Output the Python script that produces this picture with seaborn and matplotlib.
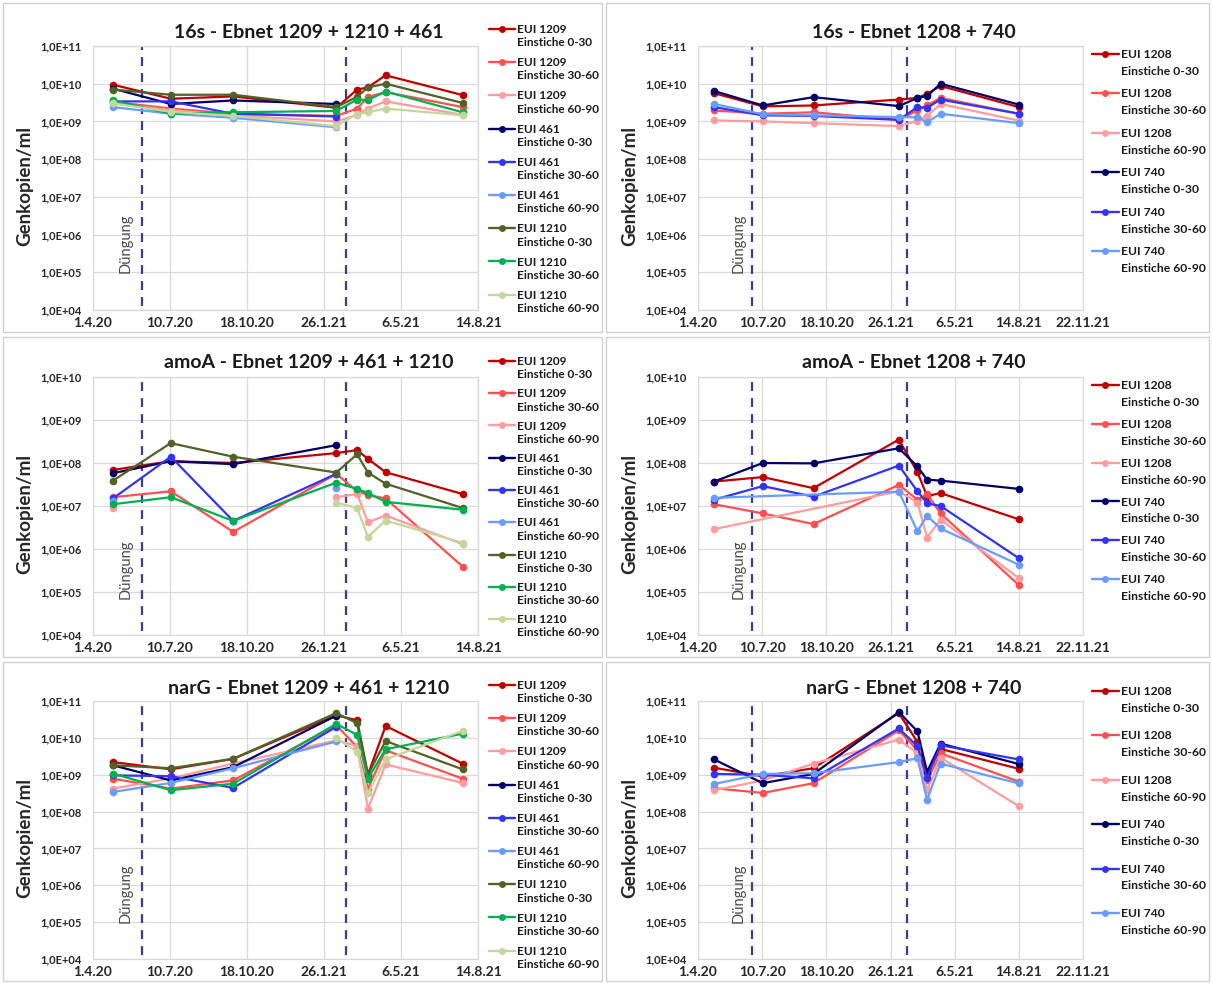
import numpy as np
import pandas as pd
import matplotlib
matplotlib.use("Agg")
import matplotlib.pyplot as plt
import matplotlib.dates as mdates
import matplotlib.transforms as mtransforms
from matplotlib.lines import Line2D
from matplotlib.patches import Rectangle
from matplotlib.ticker import FixedLocator, FuncFormatter, NullLocator
import seaborn as sns

nan = np.nan

# Sampling dates of the two field groups
DATES_A = pd.to_datetime(["2020-04-27", "2020-07-11", "2020-09-30", "2021-02-11",
                          "2021-03-10", "2021-03-24", "2021-04-16", "2021-07-25"])
DATES_B = pd.to_datetime(["2020-04-26", "2020-07-11", "2020-09-28", "2021-02-08",
                          "2021-03-09", "2021-03-24", "2021-04-14", "2021-08-14"])
# Fertilisation dates (dashed markers)
FERT_A = pd.to_datetime(["2020-06-04", "2021-02-23"])
FERT_B = pd.to_datetime(["2020-06-24", "2021-02-21"])

DEPTHS = ["0-30", "30-60", "60-90"]
SITES_A = ["1209", "461", "1210"]
SITES_B = ["1208", "740"]

# ---- 16s gene copies (rows: depth 0-30, 30-60, 60-90) ----
S16_1209 = [[9.4e9, 4.0e9, 4.6e9, 2.3e9, 7.0e9, 8.0e9, 1.67e10, 5.0e9],
            [3.3e9, 2.2e9, 1.6e9, 1.4e9, 2.2e9, 4.4e9, 6.0e9, 2.4e9],
            [3.0e9, 2.0e9, 1.45e9, 1.0e9, 1.5e9, 2.2e9, 3.4e9, 1.5e9]]
S16_461 = [[7.4e9, 2.9e9, 3.6e9, 2.9e9, nan, nan, nan, nan],
           [3.4e9, 3.4e9, 1.6e9, 1.35e9, nan, nan, nan, nan],
           [2.4e9, 1.6e9, 1.25e9, 0.7e9, nan, nan, nan, nan]]
S16_1210 = [[7.0e9, 5.1e9, 5.1e9, 2.4e9, 4.5e9, 8.0e9, 1.0e10, 3.1e9],
            [3.6e9, 1.6e9, 1.75e9, 1.9e9, 3.8e9, 3.7e9, 6.2e9, 1.75e9],
            [3.0e9, 1.8e9, 1.4e9, 0.75e9, 1.6e9, 1.75e9, 2.2e9, 1.45e9]]
S16_1208 = [[5.6e9, 2.5e9, 2.65e9, 3.8e9, 4.2e9, 5.4e9, 8.7e9, 2.4e9],
            [1.95e9, 1.6e9, 1.75e9, 1.1e9, 1.95e9, 2.65e9, 4.2e9, 1.6e9],
            [1.06e9, 1.0e9, 0.9e9, 0.75e9, 1.05e9, 1.4e9, 2.9e9, 1.05e9]]
S16_740 = [[6.4e9, 2.65e9, 4.4e9, 2.55e9, 4.2e9, 4.7e9, 1.0e10, 2.8e9],
           [2.4e9, 1.45e9, 1.4e9, 1.1e9, 2.4e9, 2.3e9, 3.8e9, 1.6e9],
           [2.9e9, 1.55e9, 1.45e9, 1.3e9, 1.3e9, 0.95e9, 1.6e9, 0.9e9]]

# ---- amoA gene copies ----
AMOA_1209 = [[6.9e7, 1.1e8, 1.0e8, 1.7e8, 2.0e8, 1.25e8, 6.1e7, 1.9e7],
             [1.6e7, 2.2e7, 2.5e6, 5.6e7, 2.2e7, 1.8e7, 1.5e7, 3.9e5],
             [8.9e6, nan, nan, 1.6e7, 1.9e7, 4.2e6, 6.0e6, 1.3e6]]
AMOA_461 = [[5.8e7, 1.1e8, 9.4e7, 2.6e8, nan, nan, nan, nan],
            [1.5e7, 1.4e8, 4.5e6, 5.6e7, nan, nan, nan, nan],
            [1.3e7, nan, nan, 2.6e7, nan, nan, nan, nan]]
AMOA_1210 = [[3.9e7, 2.9e8, 1.4e8, 6.0e7, 1.6e8, 6.0e7, 3.3e7, 9.0e6],
             [1.1e7, 1.6e7, 4.5e6, 3.5e7, 2.5e7, 2.0e7, 1.25e7, 8.2e6],
             [nan, nan, nan, 1.2e7, 9.0e6, 1.9e6, 4.6e6, 1.4e6]]
AMOA_1208 = [[3.7e7, 4.7e7, 2.6e7, 3.5e8, 6.1e7, 1.7e7, 2.0e7, 4.9e6],
             [1.1e7, 6.7e6, 3.8e6, 3.1e7, 1.4e7, 1.9e7, 6.7e6, 1.45e5],
             [2.9e6, nan, nan, 2.2e7, 1.2e7, 1.85e6, 4.8e6, 2.1e5]]
AMOA_740 = [[3.7e7, 1.0e8, 9.8e7, 2.2e8, 8.3e7, 4.1e7, 3.9e7, 2.5e7],
            [1.4e7, 2.9e7, 1.65e7, 8.7e7, 2.2e7, 1.15e7, 1.0e7, 6.1e5],
            [1.55e7, nan, nan, 2.15e7, 2.6e6, 5.9e6, 3.0e6, 4.3e5]]

# ---- narG gene copies ----
NARG_1209 = [[2.2e9, 1.4e9, 2.7e9, 4.1e10, 3.0e10, 1.0e9, 2.1e10, 2.0e9],
             [7.8e8, 4.2e8, 7.0e8, 2.2e10, 5.6e9, 4.2e8, 4.6e9, 7.8e8],
             [4.2e8, 8.0e8, 2.0e9, 8.5e9, 6.0e9, 1.2e8, 1.9e9, 6.0e8]]
NARG_461 = [[1.8e9, 7.0e8, 1.6e9, 4.0e10, nan, nan, nan, nan],
            [9.6e8, 9.1e8, 4.4e8, 2.0e10, nan, nan, nan, nan],
            [3.4e8, 6.0e8, 1.5e9, 8.0e9, nan, nan, nan, nan]]
NARG_1210 = [[1.8e9, 1.5e9, 2.7e9, 4.7e10, 2.5e10, 1.0e9, 8.2e9, 1.4e9],
             [1.07e9, 3.8e8, 5.7e8, 2.4e10, 1.2e10, 7.8e8, 4.9e9, 1.3e10],
             [nan, nan, nan, 1.0e10, 4.2e9, 3.1e8, 2.6e9, 1.55e10]]
NARG_1208 = [[1.55e9, 9.0e8, 1.5e9, 4.7e10, 7.7e9, 1.07e9, 5.0e9, 1.45e9],
             [4.3e8, 3.2e8, 5.9e8, 1.6e10, 4.6e9, 7.0e8, 3.8e9, 6.5e8],
             [3.8e8, 7.0e8, 2.0e9, 9.0e9, 3.8e9, 3.8e8, 2.9e9, 1.4e8]]
NARG_740 = [[2.6e9, 5.9e8, 1.05e9, 5.0e10, 1.5e10, 1.2e9, 7.0e9, 1.95e9],
            [1.05e9, 1.0e9, 8.0e8, 1.8e10, 5.9e9, 8.3e8, 6.3e9, 2.6e9],
            [5.6e8, 1.05e9, 1.1e9, 2.2e9, 2.8e9, 2.1e8, 2.0e9, 5.8e8]]

TITLES = ["16s - Ebnet 1209 + 1210 + 461", "16s - Ebnet 1208 + 740",
          "amoA - Ebnet 1209 + 461 + 1210", "amoA - Ebnet 1208 + 740",
          "narG - Ebnet 1209 + 461 + 1210", "narG - Ebnet 1208 + 740"]

PALETTE = {
    "1209": ["#C00000", "#FF4F4F", "#FF9C9C"],
    "1208": ["#C00000", "#FF4F4F", "#FF9C9C"],
    "461": ["#000066", "#3333F5", "#6A9CFF"],
    "740": ["#000066", "#3333F5", "#6A9CFF"],
    "1210": ["#4F6228", "#00B050", "#C4D79B"],
}

sns.set_theme(style="white")
plt.rcParams["font.family"] = ["Lato", "DejaVu Sans"]

W, H = 1212, 983
fig = plt.figure(figsize=(W / 100, H / 100), dpi=100)


def fx(px):
    return px / W


def fy(py):
    return 1 - py / H


# chart frames
for (x0, y0, x1, y1) in [(3, 3, 602, 332), (606, 3, 1209, 332),
                         (3, 337, 602, 657), (606, 337, 1209, 657),
                         (3, 662, 602, 981), (606, 662, 1209, 981)]:
    fig.patches.append(Rectangle((fx(x0), fy(y1)), fx(x1 - x0), (y1 - y0) / H,
                                 transform=fig.transFigure, fill=False,
                                 edgecolor="#D0D0D0", linewidth=1.0))


def date_label(v, pos):
    d = mdates.num2date(v)
    return f"{d.day}.{d.month}.{d.strftime('%y')}"


def exp_label(v, pos):
    return f"1,0E+{int(round(np.log10(v))):02d}"


def value_runs(y, span_gaps):
    ok = ~np.isnan(y)
    if span_gaps:
        return [np.where(ok)[0]]
    runs, cur = [], []
    for i, good in enumerate(ok):
        if good:
            cur.append(i)
        elif cur:
            runs.append(np.array(cur))
            cur = []
    if cur:
        runs.append(np.array(cur))
    return runs


def draw_panel(rect, title, title_xy, dates, series, sites, fert, ytop,
               xend, span_gaps, leg_xy, leg_fs, leg_ls, text_ls):
    ax = fig.add_axes(rect)
    ax.set_yscale("log")
    for site in sites:
        vals = series[site]
        for k, depth in enumerate(DEPTHS):
            y = np.asarray(vals[k], dtype=float)
            for idx in value_runs(y, span_gaps):
                sns.lineplot(x=dates[idx], y=y[idx], ax=ax, color=PALETTE[site][k],
                             marker="o", markersize=5.5, markeredgewidth=0,
                             linewidth=1.6, estimator=None, legend=False)
    for fd in fert:
        ax.axvline(fd, ymin=0.015, ymax=1.0, color="#3A3A9A", linewidth=1.6,
                   dashes=(4, 3.2), zorder=1)
    trans = mtransforms.blended_transform_factory(ax.transData, ax.transAxes)
    ax.text(fert[0] - pd.Timedelta(days=21), 0.14, "Düngung", rotation=90,
            transform=trans, ha="center", va="bottom", fontsize=10.5, color="#4A4A4A")

    ax.set_ylim(1e4, ytop)
    start = pd.Timestamp("2020-04-01")
    ax.set_xlim(start, xend)
    ticks = pd.date_range(start, xend, freq="100D")
    ax.xaxis.set_major_locator(FixedLocator([mdates.date2num(t) for t in ticks]))
    ax.xaxis.set_major_formatter(FuncFormatter(date_label))
    exps = range(4, int(round(np.log10(ytop))) + 1)
    ax.yaxis.set_major_locator(FixedLocator([10.0 ** e for e in exps]))
    ax.yaxis.set_major_formatter(FuncFormatter(exp_label))
    ax.yaxis.set_minor_locator(NullLocator())
    ax.grid(True, color="#D9D9D9", linewidth=0.9)
    ax.set_axisbelow(True)
    for s in ax.spines.values():
        s.set_color("#D9D9D9")
        s.set_linewidth(0.9)
    ax.tick_params(axis="y", length=0, pad=8)
    ax.tick_params(axis="x", length=0, pad=5)
    for lab in ax.get_yticklabels():
        lab.set_fontsize(8)
        lab.set_fontweight("bold")
    for lab in ax.get_xticklabels():
        lab.set_fontsize(10)
        lab.set_fontweight("bold")
    ax.set_xlabel("")
    ax.set_ylabel("Genkopien/ml", fontsize=13.5, fontweight="bold")
    ax.yaxis.set_label_coords(-0.155, 0.47)

    fig.text(fx(title_xy[0]), fy(title_xy[1]), title, ha="center", va="center",
             fontsize=14, fontweight="bold", color="#1A1A1A")

    handles, labels = [], []
    for site in sites:
        for k, depth in enumerate(DEPTHS):
            handles.append(Line2D([], [], color=PALETTE[site][k], marker="o",
                                  markersize=5, markeredgewidth=0, linewidth=1.7))
            labels.append(f"EUI {site}\nEinstiche {depth}")
    leg = ax.legend(handles, labels, loc="upper left",
                    bbox_to_anchor=(fx(leg_xy[0]), fy(leg_xy[1])),
                    bbox_transform=fig.transFigure, frameon=False,
                    fontsize=leg_fs, labelspacing=leg_ls, handlelength=2.2,
                    handleheight=1.1, handletextpad=0.2, borderpad=0,
                    borderaxespad=0)
    for t in leg.get_texts():
        t.set_fontweight("bold")
        t.set_linespacing(text_ls)
        t.set_color("#1A1A1A")
    # put each legend key level with the first line of its label
    for col in leg._legend_handle_box.get_children():
        for item in col.get_children():
            item.align = "top"
    return ax


LEFT_X, RIGHT_X, AX_W = 93, 698, 385
ROWS = [(46, 310), (377, 635), (701, 959)]
END_A = pd.Timestamp("2021-08-14")
END_B = pd.Timestamp("2021-11-22")

gene_sets = [
    ({"1209": S16_1209, "461": S16_461, "1210": S16_1210},
     {"1208": S16_1208, "740": S16_740}, 1e11),
    ({"1209": AMOA_1209, "461": AMOA_461, "1210": AMOA_1210},
     {"1208": AMOA_1208, "740": AMOA_740}, 1e10),
    ({"1209": NARG_1209, "461": NARG_461, "1210": NARG_1210},
     {"1208": NARG_1208, "740": NARG_740}, 1e11),
]
title_rows = [33, 363, 689]
leg_top_a = [24, 356, 680]
leg_top_b = [49, 380, 686]
leg_space_a = [0.76, 0.68, 0.76]
leg_space_b = [0.96, 0.91, 1.37]

for r, ((ser_a, ser_b, ytop), (top, bot)) in enumerate(zip(gene_sets, ROWS)):
    rect_a = [fx(LEFT_X), fy(bot), fx(AX_W), (bot - top) / H]
    rect_b = [fx(RIGHT_X), fy(bot), fx(AX_W), (bot - top) / H]
    draw_panel(rect_a, TITLES[2 * r], (309, title_rows[r]), DATES_A, ser_a, SITES_A,
               FERT_A, ytop, END_A, False, (489, leg_top_a[r]), 8.5, leg_space_a[r], 1.25)
    draw_panel(rect_b, TITLES[2 * r + 1], (914, title_rows[r]), DATES_B, ser_b, SITES_B,
               FERT_B, ytop, END_B, True, (1092, leg_top_b[r]), 8.7, leg_space_b[r], 1.65)

fig.savefig("out.png", dpi=100, facecolor="white")
